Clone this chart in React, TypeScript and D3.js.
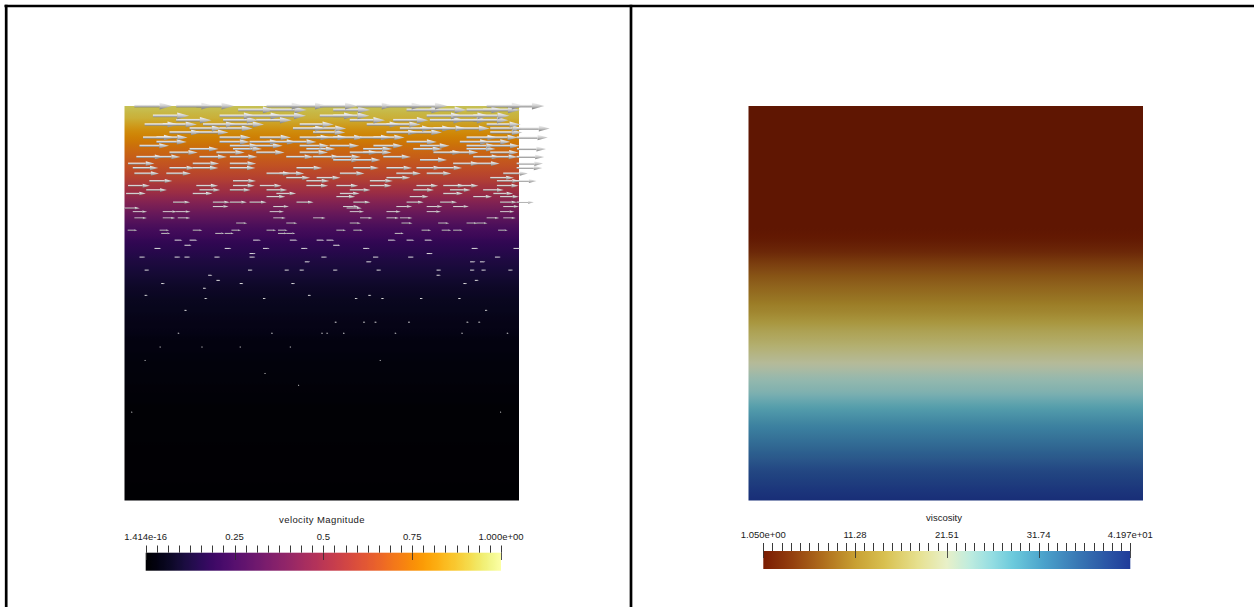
import React, { useRef, useEffect } from "react";
import * as d3 from "d3";

const WIDTH = 1254;
const HEIGHT = 607;
const SHADE_LEFT = 0.82; // lit surface is darker than the colour bar
const SHADE_RIGHT = 0.78;
const GLYPH_SCALE = 40; // px per unit velocity

// velocity magnitude along depth (0 = surface, 1 = bottom)
const velocityDepth = [0, 0.03, 0.06, 0.1, 0.14, 0.18, 0.22, 0.26, 0.3, 0.35, 0.4, 0.45, 0.5, 0.6, 0.75, 1];
const velocityMagnitude = [0.94, 0.9, 0.82, 0.74, 0.67, 0.6, 0.5, 0.38, 0.27, 0.18, 0.13, 0.09, 0.065, 0.035, 0.012, 0.002];

// glyph seed points: [depth, x positions] (both 0..1 of the domain)
const glyphRows: [number, number[]][] = [
  [0.0, [0.025, 0.131, 0.182, 0.36, 0.419, 0.495, 0.588, 0.664, 0.723, 0.918, 0.969]],
  [0.01, [0.288, 0.368, 0.529, 0.715, 0.774, 0.867, 0.909]],
  [0.025, [0.072, 0.241, 0.309, 0.368, 0.495, 0.529, 0.766, 0.833, 0.884]],
  [0.036, [0.131, 0.25, 0.334, 0.571, 0.681, 0.774, 0.833, 0.884]],
  [0.047, [0.051, 0.097, 0.199, 0.267, 0.444, 0.614, 0.664, 0.918]],
  [0.057, [0.165, 0.241, 0.427, 0.478, 0.698, 0.749, 0.783, 0.842, 0.927, 0.994]],
  [0.067, [0.114, 0.182, 0.478, 0.664, 0.723, 0.927]],
  [0.08, [0.047, 0.081, 0.241, 0.343, 0.444, 0.487, 0.529, 0.597, 0.631, 0.867, 0.918, 0.994]],
  [0.091, [0.081, 0.241, 0.317, 0.36, 0.41, 0.715, 0.85, 0.901]],
  [0.101, [0.038, 0.267, 0.326, 0.444, 0.52, 0.631, 0.749, 0.867, 0.927]],
  [0.109, [0.165, 0.275, 0.461, 0.605, 0.732, 0.867, 0.995]],
  [0.118, [0.114, 0.233, 0.334, 0.444, 0.571, 0.605, 0.783, 0.825, 0.927]],
  [0.129, [0.03, 0.072, 0.19, 0.267, 0.41, 0.478, 0.529, 0.656, 0.884, 0.927, 0.994]],
  [0.137, [0.529, 0.58, 0.749]],
  [0.146, [0.009, 0.173, 0.267, 0.833, 0.884, 0.994]],
  [0.157, [0.021, 0.114, 0.173, 0.267, 0.436, 0.58, 0.664, 0.74, 0.791, 0.994]],
  [0.171, [0.025, 0.106, 0.36, 0.393, 0.546, 0.689, 0.766, 0.96]],
  [0.182, [0.41, 0.487, 0.664, 0.927]],
  [0.19, [0.063, 0.275, 0.461, 0.622, 0.944, 0.986]],
  [0.202, [0.009, 0.182, 0.275, 0.343, 0.461, 0.537, 0.622, 0.74, 0.808, 0.842, 0.944]],
  [0.213, [0.055, 0.19, 0.267, 0.36, 0.571, 0.732, 0.825, 0.909]],
  [0.222, [0.004, 0.173, 0.385, 0.546, 0.808, 0.935]],
  [0.23, [0.36, 0.537, 0.723, 0.884, 0.952]],
  [0.244, [0.123, 0.224, 0.267, 0.317, 0.436, 0.58, 0.715, 0.8, 0.952, 0.994]],
  [0.255, [0.224, 0.377, 0.554, 0.689, 0.766, 0.833, 0.96]],
  [0.259, [0.0, 0.563]],
  [0.268, [0.021, 0.097, 0.131, 0.368, 0.571, 0.664, 0.766, 0.952]],
  [0.284, [0.025, 0.097, 0.135, 0.377, 0.478, 0.597, 0.664, 0.698, 0.918, 0.96]],
  [0.297, [0.283, 0.41, 0.571, 0.702, 0.795, 0.867, 0.892]],
  [0.315, [0.008, 0.089, 0.173, 0.271, 0.36, 0.389, 0.537, 0.58, 0.753, 0.804, 0.833, 0.947]],
  [0.323, [0.093, 0.23, 0.254, 0.389, 0.41, 0.685]],
  [0.34, [0.127, 0.165, 0.326, 0.419, 0.487, 0.512, 0.668, 0.715, 0.761]],
  [0.353, [0.152, 0.529]],
  [0.361, [0.076, 0.254, 0.351, 0.448, 0.605, 0.88, 0.986]],
  [0.374, [0.317, 0.766]],
  [0.383, [0.038, 0.127, 0.152, 0.228, 0.317, 0.499, 0.63, 0.719, 0.939]],
  [0.395, [0.457, 0.613, 0.876, 0.901]],
  [0.416, [0.051, 0.313, 0.406, 0.444, 0.529, 0.639, 0.791, 0.876, 0.905, 0.973]],
  [0.429, [0.212, 0.791]],
  [0.442, [0.233, 0.888]],
  [0.45, [0.093, 0.292, 0.423, 0.859]],
  [0.462, [0.199]],
  [0.48, [0.051, 0.465, 0.618]],
  [0.488, [0.203, 0.351, 0.584, 0.651, 0.749, 0.846]],
  [0.518, [0.152, 0.914]],
  [0.548, [0.533, 0.605, 0.634, 0.719, 0.867, 0.897]],
  [0.576, [0.135, 0.372, 0.499, 0.512, 0.554, 0.685, 0.854, 0.969]],
  [0.611, [0.089, 0.195, 0.292, 0.419]],
  [0.645, [0.051, 0.647]],
  [0.678, [0.355]],
  [0.708, [0.44]],
  [0.776, [0.017, 0.952]],
];

// viscosity along depth
const viscosityDepth = [0, 0.31, 0.336, 0.37, 0.4, 0.446, 0.488, 0.522, 0.564, 0.607, 0.649, 0.691, 0.725, 0.759, 0.8, 0.843, 0.885, 0.928, 1];
const viscosityValue = [1.05, 1.05, 1.46, 3.1, 5.55, 8.42, 10.46, 12.5, 15.78, 18.24, 21.1, 23.97, 25.6, 28.47, 31.33, 33.79, 36.24, 39.11, 41.97];

// viscosity colour map (normalised position -> colour)
const viscosityStops = [0, 0.08, 0.16, 0.25, 0.33, 0.42, 0.5, 0.56, 0.62, 0.68, 0.76, 0.86, 1];
const viscosityColors = ["#7a1c02", "#94400e", "#ae6c1c", "#c8a032", "#d8c050", "#e6e08e", "#e8f0c8", "#c0ecde", "#96dee2", "#6ccadc", "#4ca4cc", "#3876b4", "#1f3b99"];

const velocityTicks = [0, 0.25, 0.5, 0.75, 1];
const velocityTickLabels = ["1.414e-16", "0.25", "0.5", "0.75", "1.000e+00"];
const viscosityTicks = [1.05, 11.28, 21.51, 31.74, 41.97];
const viscosityTickLabels = ["1.050e+00", "11.28", "21.51", "31.74", "4.197e+01"];

const FONT = "'Liberation Sans', Arial, sans-serif";

const shade = (c: string, k: number) => {
  const r = d3.rgb(c);
  return d3.rgb(r.r * k, r.g * k, r.b * k).formatHex();
};

function addGradient(defs: any, id: string, vertical: boolean, stops: [number, string][]) {
  const grad = defs
    .append("linearGradient")
    .attr("id", id)
    .attr("x1", 0)
    .attr("y1", 0)
    .attr("x2", vertical ? 0 : 1)
    .attr("y2", vertical ? 1 : 0);
  stops.forEach(([o, c]) => grad.append("stop").attr("offset", o).attr("stop-color", c));
}

function drawColorbar(svg: any, opts: any) {
  const { x0, x1, barY, barH, tickTop, majorBottom, domain, minorCount, ticks, labels, labelY, title, titleX, titleY, titleSpacing, gradId } = opts;
  const x = d3.scaleLinear().domain(domain).range([x0, x1]);

  svg.append("rect").attr("x", x0).attr("y", barY).attr("width", x1 - x0).attr("height", barH).attr("fill", `url(#${gradId})`);

  const minor = d3.range(minorCount + 1).map((i) => domain[0] + ((domain[1] - domain[0]) * i) / minorCount);
  svg
    .append("g")
    .selectAll("line")
    .data(minor)
    .join("line")
    .attr("x1", (d: number) => Math.round(x(d)) + 0.5)
    .attr("x2", (d: number) => Math.round(x(d)) + 0.5)
    .attr("y1", tickTop)
    .attr("y2", barY)
    .attr("stroke", "#3a3a3a")
    .attr("stroke-width", 1);

  // major ticks run into the bar
  svg
    .append("g")
    .selectAll("line")
    .data(ticks)
    .join("line")
    .attr("x1", (d: number) => Math.round(x(d)) + 0.5)
    .attr("x2", (d: number) => Math.round(x(d)) + 0.5)
    .attr("y1", barY)
    .attr("y2", majorBottom)
    .attr("stroke", "#2a2a2a")
    .attr("stroke-opacity", 0.8)
    .attr("stroke-width", 1);

  svg
    .append("g")
    .selectAll("text")
    .data(ticks)
    .join("text")
    .attr("x", (d: number) => x(d))
    .attr("y", labelY)
    .attr("text-anchor", "middle")
    .attr("font-family", FONT)
    .attr("font-size", 9.5)
    .attr("fill", "#1a1a1a")
    .text((_: number, i: number) => labels[i]);

  svg
    .append("text")
    .attr("x", titleX)
    .attr("y", titleY)
    .attr("text-anchor", "middle")
    .attr("font-family", FONT)
    .attr("font-size", 9.5)
    .attr("letter-spacing", titleSpacing || 0)
    .attr("fill", "#1a1a1a")
    .text(title);
}

export default function App() {
  const svgRef = useRef<SVGSVGElement>(null);

  useEffect(() => {
    const svg = d3.select(svgRef.current);
    svg.selectAll("*").remove();
    const defs = svg.append("defs");

    const velocityAt = d3.scaleLinear().domain(velocityDepth).range(velocityMagnitude).clamp(true);
    const viscosityAt = d3.scaleLinear().domain(viscosityDepth).range(viscosityValue).clamp(true);
    const viscosityNorm = d3.scaleLinear().domain([viscosityTicks[0], viscosityTicks[4]]).range([0, 1]);
    const viscosityCmap = d3
      .scaleLinear<string>()
      .domain(viscosityStops)
      .range(viscosityColors)
      .interpolate(d3.interpolateRgb)
      .clamp(true);

    const samples = d3.range(0, 1.0001, 0.01);

    addGradient(defs, "velField", true, samples.map((d) => [d, shade(d3.interpolateInferno(velocityAt(d)), SHADE_LEFT)]));
    addGradient(defs, "velBar", false, samples.map((t) => [t, d3.interpolateInferno(t)]));
    addGradient(defs, "viscField", true, samples.map((d) => [d, shade(viscosityCmap(viscosityNorm(viscosityAt(d))), SHADE_RIGHT)]));
    addGradient(defs, "viscBar", false, samples.map((t) => [t, viscosityCmap(t)]));
    addGradient(defs, "glyphShade", true, [
      [0, "#f6f6f6"],
      [0.45, "#cfcfcf"],
      [1, "#7e7e7e"],
    ]);

    svg.append("rect").attr("width", WIDTH).attr("height", HEIGHT).attr("fill", "#ffffff");

    // --- left: velocity field
    const lx = d3.scaleLinear().domain([0, 1]).range([124.5, 519]);
    const ly = d3.scaleLinear().domain([0, 1]).range([106, 500.5]);
    svg
      .append("rect")
      .attr("x", lx(0))
      .attr("y", ly(0))
      .attr("width", lx(1) - lx(0))
      .attr("height", ly(1) - ly(0))
      .attr("fill", "url(#velField)");

    const glyphs = glyphRows
      .flatMap(([depth, xs]) => xs.map((x) => ({ x, depth, v: velocityAt(depth) })))
      .sort((a, b) => b.depth - a.depth);

    const glyphG = svg.append("g");
    glyphs.forEach((g) => {
      const len = Math.max(1.2, g.v * GLYPH_SCALE);
      const x0 = lx(g.x);
      const y0 = ly(g.depth);
      const shaftHalf = Math.max(0.5, len * 0.036);
      const tipHalf = Math.max(0.6, len * 0.09);
      const tipLen = len * 0.33;
      const fill = len < 8 ? "#dcdcdc" : "url(#glyphShade)";
      glyphG
        .append("rect")
        .attr("x", x0)
        .attr("y", y0 - shaftHalf)
        .attr("width", len - tipLen)
        .attr("height", shaftHalf * 2)
        .attr("fill", fill);
      glyphG
        .append("path")
        .attr(
          "d",
          d3.line()([
            [x0 + len - tipLen, y0 - tipHalf],
            [x0 + len, y0],
            [x0 + len - tipLen, y0 + tipHalf],
          ]) + "Z",
        )
        .attr("fill", fill);
    });

    drawColorbar(svg, {
      x0: 145.7,
      x1: 501,
      barY: 552.7,
      barH: 18,
      tickTop: 545.5,
      majorBottom: 560,
      domain: [0, 1],
      minorCount: 32,
      ticks: velocityTicks,
      labels: velocityTickLabels,
      labelY: 539.5,
      title: "velocity Magnitude",
      titleX: 322,
      titleY: 522.5,
      titleSpacing: 0.4,
      gradId: "velBar",
    });

    // --- right: viscosity field
    const rx = d3.scaleLinear().domain([0, 1]).range([748.5, 1143]);
    const ry = d3.scaleLinear().domain([0, 1]).range([106, 500.5]);
    svg
      .append("rect")
      .attr("x", rx(0))
      .attr("y", ry(0))
      .attr("width", rx(1) - rx(0))
      .attr("height", ry(1) - ry(0))
      .attr("fill", "url(#viscField)");

    drawColorbar(svg, {
      x0: 763.3,
      x1: 1130.3,
      barY: 551,
      barH: 18,
      tickTop: 543,
      majorBottom: 558,
      domain: [viscosityTicks[0], viscosityTicks[4]],
      minorCount: 40,
      ticks: viscosityTicks,
      labels: viscosityTickLabels,
      labelY: 537.5,
      title: "viscosity",
      titleX: 944,
      titleY: 521,
      gradId: "viscBar",
    });

    // --- frame
    const frame = svg.append("g").attr("stroke", "#000").attr("stroke-width", 2.7);
    frame.append("line").attr("x1", 4.5).attr("x2", WIDTH).attr("y1", 6).attr("y2", 6);
    frame.append("line").attr("x1", 6.2).attr("x2", 6.2).attr("y1", 4.7).attr("y2", HEIGHT);
    frame.append("line").attr("x1", 631).attr("x2", 631).attr("y1", 4.7).attr("y2", HEIGHT);
  }, []);

  return (
    <svg
      ref={svgRef}
      width={WIDTH}
      height={HEIGHT}
      style={{ position: "absolute", left: 0, top: 0, display: "block" }}
    />
  );
}
